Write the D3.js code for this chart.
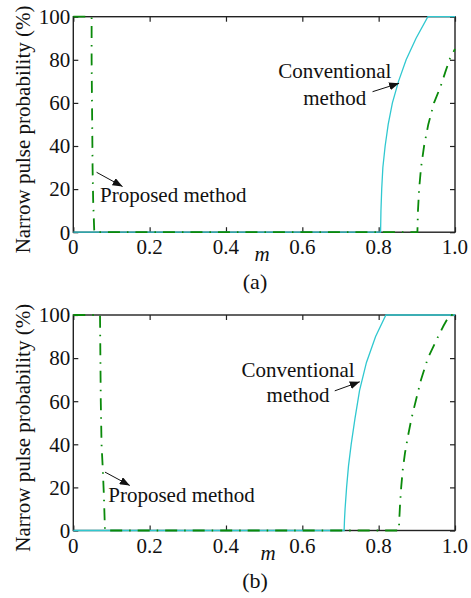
<!DOCTYPE html>
<meta charset="utf-8">
<style>
  body { margin: 0; background: #fff; }
</style>

<script src="https://d3js.org/d3.v7.min.js"></script>

<div id="chart"></div>

<script>

  // ticks shared by both panels
  var xTicks = [0, 0.2, 0.4, 0.6, 0.8, 1.0];
  var xTickLabels = ["0", "0.2", "0.4", "0.6", "0.8", "1.0"];
  var yTicks = [0, 20, 40, 60, 80, 100];

  // panel (a): m vs narrow pulse probability (%)
  var convA_m = [0, 0.805, 0.806, 0.808, 0.811, 0.817, 0.825, 0.836, 0.852, 0.872, 0.898, 0.929, 1.0];
  var convA_p = [0, 0, 10, 20, 30, 40, 50, 60, 70, 80, 90, 100, 100];
  var propA_m = [0, 0.048, 0.048, 0.049, 0.050, 0.0505, 0.052, 0.055, 0.9015, 0.903, 0.906, 0.911, 0.919, 0.930, 0.945, 0.962, 0.975, 0.987, 1.0];
  var propA_p = [100, 100, 80, 60, 41, 30, 15, 0, 0, 10, 20, 30, 40, 50, 60, 67.5, 74.5, 80.7, 85];

  // panel (b)
  var convB_m = [0, 0.7095, 0.7105, 0.712, 0.716, 0.721, 0.728, 0.738, 0.750, 0.768, 0.792, 0.819, 1.0];
  var convB_p = [0, 0, 5, 10, 20, 30, 40, 52, 65, 78, 90, 100, 100];
  var propB_m = [0, 0.070, 0.071, 0.072, 0.074, 0.077, 0.080, 0.083, 0.853, 0.854, 0.856, 0.859, 0.863, 0.869, 0.877, 0.886, 0.897, 0.911, 0.929, 0.953, 0.970, 0.986, 1.0];
  var propB_p = [100, 100, 80, 60, 40, 29.5, 17, 0, 0, 5, 12, 20, 28, 36, 44, 52, 60, 70, 80, 89, 95, 100, 100];

  var width = 471, height = 598;
  var left = 73.3, plotW = 381.7, plotH = 215.5;
  var serif = "'Liberation Serif', 'Times New Roman', Times, 'DejaVu Serif', serif";

  var svg = d3.select("#chart")
    .append("svg")
      .attr("width", width)
      .attr("height", height)
      .attr("font-family", serif)
      .style("font-family", serif);

  svg.append("defs").append("marker")
      .attr("id", "arrow")
      .attr("markerUnits", "userSpaceOnUse")
      .attr("markerWidth", 11)
      .attr("markerHeight", 8)
      .attr("refX", 10)
      .attr("refY", 4)
      .attr("orient", "auto")
    .append("path")
      .attr("d", "M0,0 L10,4 L0,8 Z")
      .style("fill", "#111");

  function zip(ms, ps) {
    return ms.map(function(m, i) { return [m, ps[i]]; });
  }

  function txt(sel) {
    return sel.append("text")
      .attr("font-family", serif)
      .style("font-family", serif)
      .style("fill", "#111")
      .style("font-size", "21px");
  }

  function drawPanel(cfg) {
    var g = svg.append("g")
      .attr("transform", "translate(" + left + "," + cfg.top + ")");

    var x = d3.scaleLinear().domain([0, 1]).range([0, plotW]);
    var y = d3.scaleLinear().domain([0, 100]).range([plotH, 0]);

    // frame
    g.append("rect")
      .attr("width", plotW).attr("height", plotH)
      .style("fill", "none").style("stroke", "#222").style("stroke-width", 1.4);

    // inward ticks on all four sides
    g.append("g").attr("transform", "translate(0," + plotH + ")")
      .call(d3.axisBottom(x).tickValues(xTicks).tickSizeInner(-5).tickSizeOuter(0).tickFormat(""))
      .call(function(a) { a.select(".domain").remove(); });
    g.append("g")
      .call(d3.axisTop(x).tickValues(xTicks).tickSizeInner(-5).tickSizeOuter(0).tickFormat(""))
      .call(function(a) { a.select(".domain").remove(); });
    g.append("g")
      .call(d3.axisLeft(y).tickValues(yTicks).tickSizeInner(-5).tickSizeOuter(0).tickFormat(""))
      .call(function(a) { a.select(".domain").remove(); });
    g.append("g").attr("transform", "translate(" + plotW + ",0)")
      .call(d3.axisRight(y).tickValues(yTicks).tickSizeInner(-5).tickSizeOuter(0).tickFormat(""))
      .call(function(a) { a.select(".domain").remove(); });
    g.selectAll(".tick line").style("stroke", "#222").style("stroke-width", 1.2);

    // tick labels
    xTicks.forEach(function(d, i) {
      txt(g).attr("x", x(d)).attr("y", plotH + 22)
        .attr("text-anchor", "middle").text(xTickLabels[i]);
    });
    yTicks.forEach(function(d) {
      txt(g).attr("x", -3).attr("y", y(d)).attr("dy", "0.35em")
        .attr("text-anchor", "end").text(d);
    });

    txt(g)
      .attr("transform", "translate(" + (30 - left) + "," + (plotH / 2 + 5) + ") rotate(-90)")
      .attr("text-anchor", "middle")
      .text("Narrow pulse probability (%)");

    txt(g)
      .attr("x", cfg.mX - left)
      .attr("y", plotH + 29)
      .attr("text-anchor", "middle")
      .style("font-style", "italic")
      .text("m");

    txt(g)
      .attr("x", 255 - left)
      .attr("y", plotH + 57)
      .attr("text-anchor", "middle")
      .style("font-size", "22px")
      .text(cfg.label);

    // curves
    var line = d3.line()
      .x(function(d) { return x(d[0]); })
      .y(function(d) { return y(d[1]); });

    g.append("path")
      .datum(zip(cfg.conv_m, cfg.conv_p))
      .attr("d", line)
      .style("fill", "none")
      .style("stroke", "#30c8d0")
      .style("stroke-width", 1.3);

    g.append("path")
      .datum(zip(cfg.prop_m, cfg.prop_p))
      .attr("d", line)
      .style("fill", "none")
      .style("stroke", "#0a8a0a")
      .style("stroke-width", 1.8)
      .style("stroke-dasharray", "12,7,1.5,7");

    // annotations
    var n = cfg.notes;
    txt(g).attr("x", x(n.convText[0])).attr("y", y(n.convText[1]))
      .attr("text-anchor", "middle").text("Conventional");
    txt(g).attr("x", x(n.convText[0])).attr("y", y(n.convText[2]))
      .attr("text-anchor", "middle").text("method");
    txt(g).attr("x", x(n.propText[0])).attr("y", y(n.propText[1]))
      .text("Proposed method");

    [n.convArrow, n.propArrow].forEach(function(a) {
      g.append("line")
        .attr("x1", x(a[0])).attr("y1", y(a[1]))
        .attr("x2", x(a[2])).attr("y2", y(a[3]))
        .style("stroke", "#111").style("stroke-width", 1)
        .attr("marker-end", "url(#arrow)");
    });
  }

  drawPanel({
    top: 16.7, label: "(a)", mX: 262,
    conv_m: convA_m, conv_p: convA_p, prop_m: propA_m, prop_p: propA_p,
    notes: {
      convText: [0.685, 71.4, 59],
      convArrow: [0.784, 65.2, 0.8535, 69.1],
      propText: [0.07, 14.2],
      propArrow: [0.061, 27.8, 0.129, 21.2]
    }
  });

  drawPanel({
    top: 315, label: "(b)", mX: 268,
    conv_m: convB_m, conv_p: convB_p, prop_m: propB_m, prop_p: propB_p,
    notes: {
      convText: [0.589, 71, 59.7],
      convArrow: [0.685, 64.8, 0.7505, 69],
      propText: [0.0916, 13.2],
      propArrow: [0.083, 27.1, 0.148, 20.9]
    }
  });

</script>
